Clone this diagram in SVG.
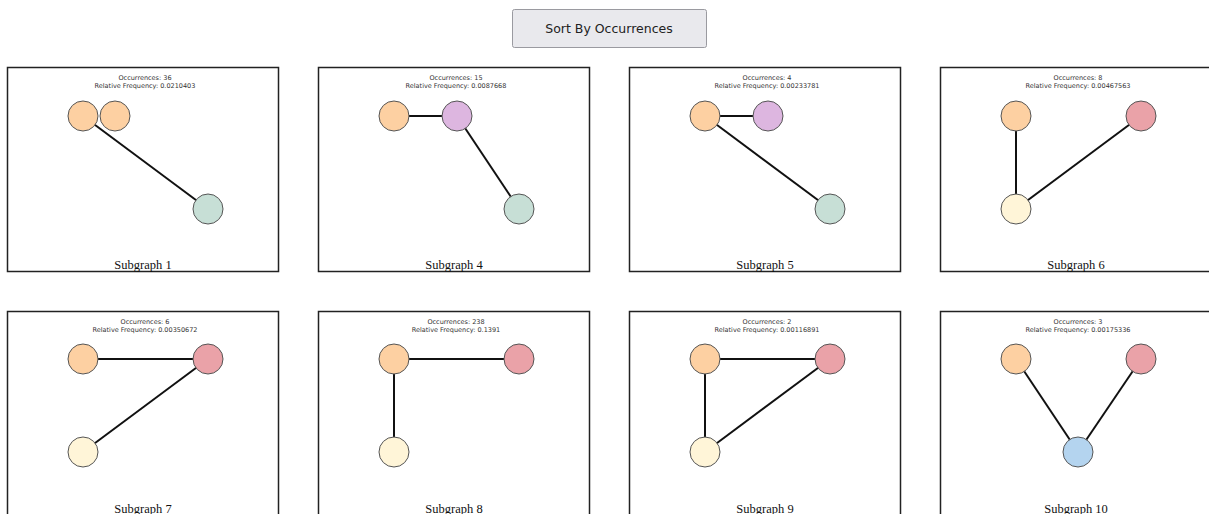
<svg xmlns="http://www.w3.org/2000/svg" width="1209" height="514" viewBox="0 0 1209 514">
<style>
.panel{fill:#fff;stroke:#222;stroke-width:1.5}
.n{stroke:#555;stroke-width:1}
.o{fill:#FDD0A2}.g{fill:#C7DFD6}.p{fill:#DDB6E0}.r{fill:#EAA2A8}.y{fill:#FFF5D8}.b{fill:#B4D4EF}
.e{stroke:#111;stroke-width:2;fill:none}
.info{font-family:"DejaVu Sans",sans-serif;font-size:6.5px;fill:#333;text-anchor:middle}
.title{font-family:"Liberation Serif",serif;font-size:12.5px;fill:#111;text-anchor:middle}
.btn{font-family:"DejaVu Sans",sans-serif;font-size:12.5px;fill:#222;text-anchor:middle}
</style>
<rect width="1209" height="514" fill="#fff"/>
<g id="button">
<rect x="512.5" y="9.5" width="194" height="38" rx="2" fill="#E9E9ED" stroke="#9a9aa0"/>
<text class="btn" x="609" y="33">Sort By Occurrences</text>
</g>
<g id="frames">
<rect class="panel" x="7.5" y="67.5" width="271" height="204"/>
<rect class="panel" x="318.5" y="67.5" width="271" height="204"/>
<rect class="panel" x="629.5" y="67.5" width="271" height="204"/>
<rect class="panel" x="940.5" y="67.5" width="271" height="204"/>
<rect class="panel" x="7.5" y="311.5" width="271" height="220"/>
<rect class="panel" x="318.5" y="311.5" width="271" height="220"/>
<rect class="panel" x="629.5" y="311.5" width="271" height="220"/>
<rect class="panel" x="940.5" y="311.5" width="271" height="220"/>
</g>
<g id="connectors">
<line class="e" x1="83" y1="116" x2="208" y2="209"/>
<line class="e" x1="394" y1="116" x2="457" y2="116"/>
<line class="e" x1="457" y1="116" x2="519" y2="209"/>
<line class="e" x1="705" y1="116" x2="768" y2="116"/>
<line class="e" x1="705" y1="116" x2="830" y2="209"/>
<line class="e" x1="1016" y1="116" x2="1016" y2="209"/>
<line class="e" x1="1016" y1="209" x2="1141" y2="116"/>
<line class="e" x1="83" y1="359" x2="208" y2="359"/>
<line class="e" x1="208" y1="359" x2="83" y2="452"/>
<line class="e" x1="394" y1="359" x2="519" y2="359"/>
<line class="e" x1="394" y1="359" x2="394" y2="452"/>
<line class="e" x1="705" y1="359" x2="830" y2="359"/>
<line class="e" x1="705" y1="359" x2="705" y2="452"/>
<line class="e" x1="705" y1="452" x2="830" y2="359"/>
<line class="e" x1="1016" y1="359" x2="1078" y2="452"/>
<line class="e" x1="1141" y1="359" x2="1078" y2="452"/>
</g>
<g id="subgraph1">
<text class="info" x="145" y="79.5">Occurrences: 36</text>
<text class="info" x="145" y="88">Relative Frequency: 0.0210403</text>
<circle class="n o" cx="83" cy="116" r="15"/>
<circle class="n o" cx="115" cy="116" r="15"/>
<circle class="n g" cx="208" cy="209" r="15"/>
<text class="title" x="143" y="269">Subgraph 1</text>
</g>
<g id="subgraph4">
<text class="info" x="456" y="79.5">Occurrences: 15</text>
<text class="info" x="456" y="88">Relative Frequency: 0.0087668</text>
<circle class="n o" cx="394" cy="116" r="15"/>
<circle class="n p" cx="457" cy="116" r="15"/>
<circle class="n g" cx="519" cy="209" r="15"/>
<text class="title" x="454" y="269">Subgraph 4</text>
</g>
<g id="subgraph5">
<text class="info" x="767" y="79.5">Occurrences: 4</text>
<text class="info" x="767" y="88">Relative Frequency: 0.00233781</text>
<circle class="n o" cx="705" cy="116" r="15"/>
<circle class="n p" cx="768" cy="116" r="15"/>
<circle class="n g" cx="830" cy="209" r="15"/>
<text class="title" x="765" y="269">Subgraph 5</text>
</g>
<g id="subgraph6">
<text class="info" x="1078" y="79.5">Occurrences: 8</text>
<text class="info" x="1078" y="88">Relative Frequency: 0.00467563</text>
<circle class="n o" cx="1016" cy="116" r="15"/>
<circle class="n r" cx="1141" cy="116" r="15"/>
<circle class="n y" cx="1016" cy="209" r="15"/>
<text class="title" x="1076" y="269">Subgraph 6</text>
</g>
<g id="subgraph7">
<text class="info" x="145" y="323.5">Occurrences: 6</text>
<text class="info" x="145" y="332">Relative Frequency: 0.00350672</text>
<circle class="n o" cx="83" cy="359" r="15"/>
<circle class="n r" cx="208" cy="359" r="15"/>
<circle class="n y" cx="83" cy="452" r="15"/>
<text class="title" x="143" y="513">Subgraph 7</text>
</g>
<g id="subgraph8">
<text class="info" x="456" y="323.5">Occurrences: 238</text>
<text class="info" x="456" y="332">Relative Frequency: 0.1391</text>
<circle class="n o" cx="394" cy="359" r="15"/>
<circle class="n r" cx="519" cy="359" r="15"/>
<circle class="n y" cx="394" cy="452" r="15"/>
<text class="title" x="454" y="513">Subgraph 8</text>
</g>
<g id="subgraph9">
<text class="info" x="767" y="323.5">Occurrences: 2</text>
<text class="info" x="767" y="332">Relative Frequency: 0.00116891</text>
<circle class="n o" cx="705" cy="359" r="15"/>
<circle class="n r" cx="830" cy="359" r="15"/>
<circle class="n y" cx="705" cy="452" r="15"/>
<text class="title" x="765" y="513">Subgraph 9</text>
</g>
<g id="subgraph10">
<text class="info" x="1078" y="323.5">Occurrences: 3</text>
<text class="info" x="1078" y="332">Relative Frequency: 0.00175336</text>
<circle class="n o" cx="1016" cy="359" r="15"/>
<circle class="n r" cx="1141" cy="359" r="15"/>
<circle class="n b" cx="1078" cy="452" r="15"/>
<text class="title" x="1076" y="513">Subgraph 10</text>
</g>
</svg>
